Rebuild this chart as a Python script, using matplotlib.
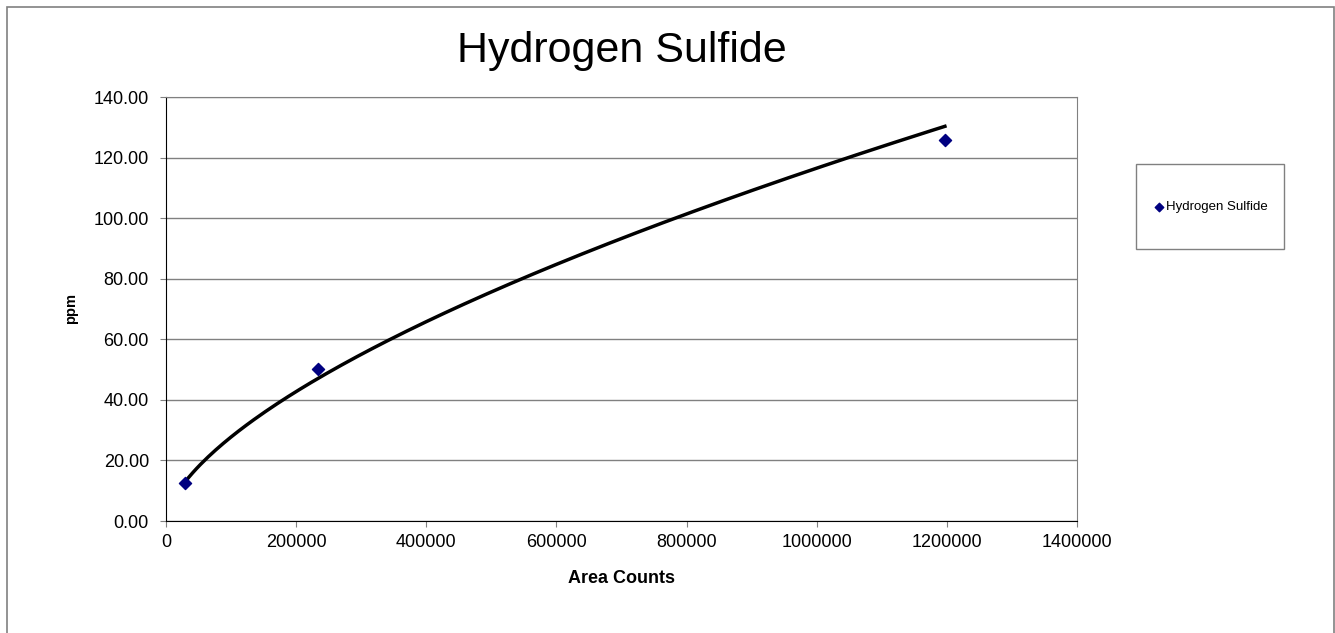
import numpy as np
import matplotlib.pyplot as plt
from matplotlib.patches import Rectangle

plt.rcParams["font.family"] = ["Liberation Sans", "DejaVu Sans"]

# data
area_counts = [29500, 233500, 1197000]
ppm = [12.6, 50.2, 125.7]
x_ticks = [0, 200000, 400000, 600000, 800000, 1000000, 1200000, 1400000]
y_ticks = [0, 20, 40, 60, 80, 100, 120, 140]

# power trendline fitted to the points (as Excel does)
b, ln_a = np.polyfit(np.log(area_counts), np.log(ppm), 1)
xs = np.linspace(min(area_counts), max(area_counts), 200)
ys = np.exp(ln_a) * xs ** b

W, H = 1335, 633
fig = plt.figure(figsize=(W / 100, H / 100), dpi=100)
ax = fig.add_axes([166 / W, 1 - 521 / H, 911 / W, 424 / H])

# outer chart border
fig.patches.append(Rectangle((7 / W, -0.05), 1 - 8.5 / W, 1.05 - 7 / H,
                             transform=fig.transFigure, fill=False,
                             edgecolor="#808080", linewidth=1.2))

ax.plot(xs, ys, color="black", linewidth=2.5, zorder=2)
ax.scatter(area_counts, ppm, marker="D", s=38, color="#000080",
           label="Hydrogen Sulfide", zorder=3)

ax.set_xlim(0, 1400000)
ax.set_ylim(0, 140)
ax.set_xticks(x_ticks)
ax.set_xticklabels([str(t) for t in x_ticks])
ax.set_yticks(y_ticks)
ax.set_yticklabels([f"{t:.2f}" for t in y_ticks])
ax.yaxis.grid(True, color="#808080", linewidth=1)
ax.set_axisbelow(True)

for side in ["top", "right"]:
    ax.spines[side].set_color("#808080")
for side in ["left", "bottom"]:
    ax.spines[side].set_color("black")
ax.tick_params(axis="both", direction="out", length=4.3, labelsize=13,
               color="#808080")
ax.tick_params(axis="x", pad=5)
ax.tick_params(axis="y", pad=8)

ax.set_title("Hydrogen Sulfide", fontsize=31, pad=25)
ax.set_xlabel("Area Counts", fontsize=13, fontweight="bold", labelpad=14)
ax.set_ylabel("ppm", fontsize=10.5, fontweight="bold", labelpad=11)

# legend box
fig.patches.append(Rectangle((1136 / W, 1 - 249 / H), 148 / W, 85 / H,
                             transform=fig.transFigure, fill=False,
                             edgecolor="#808080", linewidth=1))
leg = fig.legend(loc="center", bbox_to_anchor=(1210 / W, 1 - 207 / H),
                 fontsize=9.5, frameon=False, handletextpad=0.0,
                 markerscale=0.7, borderpad=0, borderaxespad=0, handlelength=1)

plt.savefig("out.png", dpi=100)
